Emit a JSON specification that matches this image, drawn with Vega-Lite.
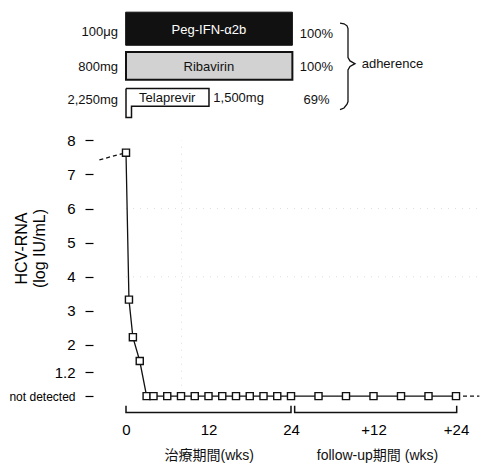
{
  "$schema": "https://vega.github.io/schema/vega-lite/v6.json",
  "width": 387,
  "height": 416,
  "autosize": {"type": "none"},
  "padding": {"left": 93, "top": 4, "right": 0, "bottom": 43},
  "background": "white",
  "config": {
    "view": {"stroke": null},
    "font": "Liberation Sans, Noto Sans CJK JP",
    "text": {"font": "Liberation Sans, Noto Sans CJK JP"}
  },
  "datasets": {
    "series": [
      {"w": 0, "v": 7.64}, {"w": 0.43, "v": 3.33}, {"w": 1, "v": 2.23}, {"w": 2, "v": 1.53},
      {"w": 3, "v": 0.5}, {"w": 4, "v": 0.5}, {"w": 6, "v": 0.5}, {"w": 8, "v": 0.5},
      {"w": 10, "v": 0.5}, {"w": 12, "v": 0.5}, {"w": 14, "v": 0.5}, {"w": 16, "v": 0.5},
      {"w": 18, "v": 0.5}, {"w": 20, "v": 0.5}, {"w": 22, "v": 0.5}, {"w": 24, "v": 0.5},
      {"w": 28, "v": 0.5}, {"w": 32, "v": 0.5}, {"w": 36, "v": 0.5}, {"w": 40, "v": 0.5},
      {"w": 44, "v": 0.5}, {"w": 48, "v": 0.5}
    ],
    "dashes": [
      {"seg": "a", "w": -3.87, "v": 7.43}, {"seg": "a", "w": 0, "v": 7.64},
      {"seg": "b", "w": 48, "v": 0.5}, {"seg": "b", "w": 51.4, "v": 0.5}
    ],
    "grid": [
      {"g": "h4", "o": 1, "w": 0, "v": 4}, {"g": "h4", "o": 2, "w": 51.4, "v": 4},
      {"g": "h6", "o": 1, "w": 0, "v": 6}, {"g": "h6", "o": 2, "w": 51.4, "v": 6},
      {"g": "v8", "o": 1, "w": 8.07, "v": 0.6}, {"g": "v8", "o": 2, "w": 8.07, "v": 8}
    ],
    "peg": [{"w": -0.05, "w2": 24.2, "v": 11.76, "v2": 10.79}],
    "riba": [{"w": 0, "w2": 24.2, "v": 10.59, "v2": 9.78}],
    "tela": [
      {"o": 1, "w": 0, "v": 9.52}, {"o": 2, "w": 12.07, "v": 9.52}, {"o": 3, "w": 12.07, "v": 9.0},
      {"o": 4, "w": 0.8, "v": 9.0}, {"o": 5, "w": 0.8, "v": 8.67}, {"o": 6, "w": 0, "v": 8.67},
      {"o": 7, "w": 0, "v": 9.52}
    ],
    "brackets": [
      {"b": 1, "o": 1, "w": 0, "v": 0.22}, {"b": 1, "o": 2, "w": 0, "v": 0.02},
      {"b": 1, "o": 3, "w": 24, "v": 0.02}, {"b": 1, "o": 4, "w": 24, "v": 0.22},
      {"b": 2, "o": 1, "w": 24.53, "v": 0.22}, {"b": 2, "o": 2, "w": 24.53, "v": 0.02},
      {"b": 2, "o": 3, "w": 48.1, "v": 0.02}, {"b": 2, "o": 4, "w": 48.1, "v": 0.22}
    ],
    "brace": [
      {"o": 1, "w": 31.13, "v": 11.44}, {"o": 2, "w": 31.71, "v": 11.42}, {"o": 3, "w": 32.15, "v": 11.36},
      {"o": 4, "w": 32.29, "v": 11.28}, {"o": 5, "w": 32.29, "v": 10.43}, {"o": 6, "w": 32.58, "v": 10.33},
      {"o": 7, "w": 33.31, "v": 10.25}, {"o": 8, "w": 32.58, "v": 10.17}, {"o": 9, "w": 32.29, "v": 10.07},
      {"o": 10, "w": 32.29, "v": 9.14}, {"o": 11, "w": 32.15, "v": 9.06}, {"o": 12, "w": 31.71, "v": 8.95},
      {"o": 13, "w": 31.13, "v": 8.9}
    ],
    "leftLabels": [
      {"t": "100μg", "w": -1.16, "v": 11.18},
      {"t": "800mg", "w": -1.16, "v": 10.15},
      {"t": "2,250mg", "w": -1.16, "v": 9.17}
    ],
    "centerLabels": [
      {"t": "Ribavirin", "w": 12.05, "v": 10.15},
      {"t": "Telaprevir", "w": 6.0, "v": 9.24},
      {"t": "100%", "w": 27.7, "v": 11.13},
      {"t": "100%", "w": 27.7, "v": 10.15},
      {"t": "69%", "w": 27.7, "v": 9.17}
    ],
    "whiteLabels": [{"t": "Peg-IFN-α2b", "w": 12.07, "v": 11.25}],
    "rightLabels": [
      {"t": "1,500mg", "w": 12.7, "v": 9.24},
      {"t": "adherence", "w": 34.28, "v": 10.25}
    ],
    "xTitles": [
      {"t": "治療期間(wks)", "w": 12.1, "v": -1.27},
      {"t": "follow-up期間 (wks)", "w": 36.58, "v": -1.27}
    ]
  },
  "encoding": {
    "x": {
      "field": "w", "type": "quantitative",
      "scale": {"domain": [-4.8, 51.49], "nice": false, "zero": false},
      "axis": {
        "title": null, "values": [0, 12, 24, 36, 48],
        "labelExpr": "datum.value == 36 ? '+12' : datum.value == 48 ? '+24' : datum.label",
        "ticks": false, "domain": false, "grid": false,
        "labelFontSize": 15, "labelColor": "black", "labelPadding": 2,
        "labelFont": "Liberation Sans"
      }
    },
    "y": {
      "field": "v", "type": "quantitative",
      "scale": {"domain": [-0.2, 12], "nice": false, "zero": false},
      "axis": {
        "title": ["HCV-RNA", "(log IU/mL)"],
        "values": [0.5, 1.2, 2, 3, 4, 5, 6, 7, 8],
        "labelExpr": "datum.value == 0.5 ? 'not detected' : '' + datum.value",
        "labelFontSize": {"condition": {"test": "datum.value == 0.5", "value": 12}, "value": 15},
        "labelColor": "black", "labelFont": "Liberation Sans",
        "labelPadding": 10, "tickSize": 8, "tickColor": "black", "tickWidth": 1.2,
        "domain": false, "grid": false,
        "titleFont": "Liberation Sans", "titleFontSize": 16, "titleFontWeight": "normal",
        "titleColor": "black", "titleLineHeight": 18, "titleAngle": -90,
        "titleBaseline": "top", "titleAlign": "center", "titleX": -80, "titleY": 244
      }
    }
  },
  "layer": [
    {
      "data": {"name": "grid"},
      "mark": {"type": "line", "stroke": "#dddddd", "strokeWidth": 1, "strokeDash": [1, 6]},
      "encoding": {"detail": {"field": "g"}, "order": {"field": "o"}}
    },
    {
      "data": {"name": "peg"},
      "mark": {"type": "rect", "fill": "#111111", "stroke": "#111111", "strokeWidth": 1},
      "encoding": {"x2": {"field": "w2"}, "y2": {"field": "v2"}}
    },
    {
      "data": {"name": "riba"},
      "mark": {"type": "rect", "fill": "#d2d2d2", "stroke": "#111111", "strokeWidth": 2},
      "encoding": {"x2": {"field": "w2"}, "y2": {"field": "v2"}}
    },
    {
      "data": {"name": "tela"},
      "mark": {"type": "line", "stroke": "#111111", "strokeWidth": 1.5},
      "encoding": {"order": {"field": "o"}}
    },
    {
      "data": {"name": "brackets"},
      "mark": {"type": "line", "stroke": "#111111", "strokeWidth": 1.5},
      "encoding": {"detail": {"field": "b"}, "order": {"field": "o"}}
    },
    {
      "data": {"name": "brace"},
      "mark": {"type": "line", "stroke": "#111111", "strokeWidth": 1.3},
      "encoding": {"order": {"field": "o"}}
    },
    {
      "data": {"name": "dashes"},
      "mark": {"type": "line", "stroke": "#111111", "strokeWidth": 1.3, "strokeDash": [4, 3]},
      "encoding": {"detail": {"field": "seg"}}
    },
    {
      "data": {"name": "series"},
      "mark": {"type": "line", "stroke": "#111111", "strokeWidth": 1.3},
      "encoding": {}
    },
    {
      "data": {"name": "series"},
      "mark": {"type": "point", "shape": "square", "filled": true, "fill": "white", "stroke": "#111111", "strokeWidth": 1.4, "size": 50, "opacity": 1},
      "encoding": {}
    },
    {
      "data": {"name": "leftLabels"},
      "mark": {"type": "text", "align": "right", "baseline": "middle", "fontSize": 13, "color": "#111111"},
      "encoding": {"text": {"field": "t"}}
    },
    {
      "data": {"name": "centerLabels"},
      "mark": {"type": "text", "align": "center", "baseline": "middle", "fontSize": 13, "color": "#111111"},
      "encoding": {"text": {"field": "t"}}
    },
    {
      "data": {"name": "whiteLabels"},
      "mark": {"type": "text", "align": "center", "baseline": "middle", "fontSize": 13, "color": "white"},
      "encoding": {"text": {"field": "t"}}
    },
    {
      "data": {"name": "rightLabels"},
      "mark": {"type": "text", "align": "left", "baseline": "middle", "fontSize": 13, "color": "#111111"},
      "encoding": {"text": {"field": "t"}}
    },
    {
      "data": {"name": "xTitles"},
      "mark": {"type": "text", "align": "center", "baseline": "middle", "fontSize": 14, "color": "#111111"},
      "encoding": {"text": {"field": "t"}}
    }
  ]
}
